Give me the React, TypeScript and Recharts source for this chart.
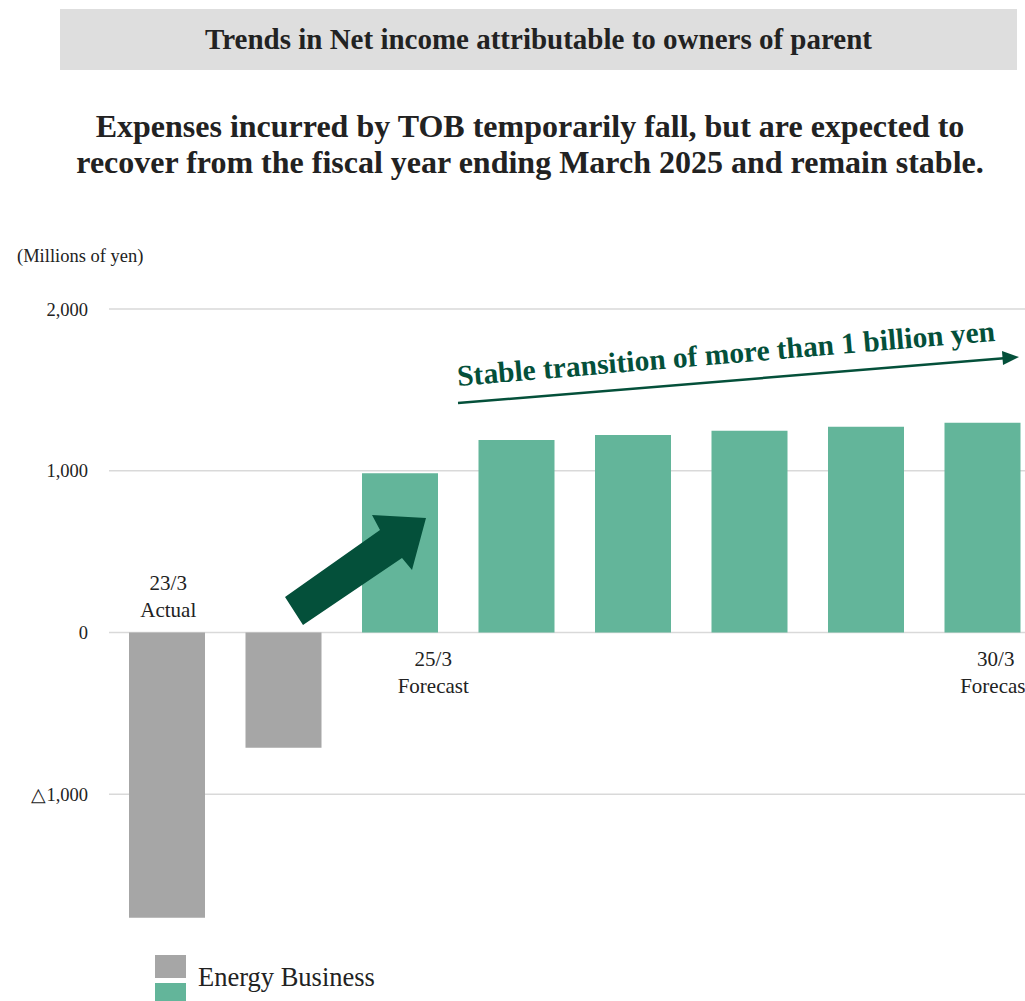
import { BarChart, Bar, XAxis, YAxis, CartesianGrid, Cell } from "recharts";

const categories = ["23/3", "24/3", "25/3", "26/3", "27/3", "28/3", "29/3", "30/3"];
const netIncome = [-1763, -712, 984, 1190, 1221, 1247, 1272, 1297];
const isForecast = [false, false, true, true, true, true, true, true];
const categoryLabels = ["23/3\nActual", "", "25/3\nForecast", "", "", "", "", "30/3\nForecast"];
const yTicks = [-1000, 0, 1000, 2000];
const yTickLabels: Record<number, string> = { [-1000]: "△1,000", 0: "0", 1000: "1,000", 2000: "2,000" };

// horizontal nudge of the category labels (they sit off-centre in the original)
const LABEL_DX: Record<string, number> = { "23/3": 1, "25/3": 33, "30/3": 13 };

const Y_MIN = -2000;
const Y_MAX = 2000;
const CHART_H = 1001;
const X_AXIS_H = 30;
const MARGIN = { top: 309, right: 19, bottom: 15, left: 0 };
const PLOT_H = CHART_H - MARGIN.top - MARGIN.bottom - X_AXIS_H;
const ZERO_Y = MARGIN.top + (PLOT_H * Y_MAX) / (Y_MAX - Y_MIN);

const GRAY = "#a6a6a6";
const GREEN = "#63b59a";
const DARK = "#04503a";
const FONT = "'Liberation Serif', 'Times New Roman', serif";

const data = categories.map((c, i) => ({
  name: c,
  value: netIncome[i],
  forecast: isForecast[i],
  label: categoryLabels[i],
}));

function CategoryTick(props: any) {
  const { x, payload } = props;
  const d = data.find(r => r.name === payload?.value);
  if (!d || !d.label) return null;
  const lines = d.label.split("\n");
  // negative bars get the label above the zero line, positive ones below
  const y0 = d.value < 0 ? ZERO_Y - 50 : ZERO_Y + 26;
  const cx = x + (LABEL_DX[d.name] ?? 0);
  return (
    <g>
      {lines.map((ln: string, i: number) => (
        <text key={i} x={cx} y={y0 + i * 27} textAnchor="middle" dominantBaseline="central"
          fontSize={21} fill="#222" fontFamily={FONT}>
          {ln}
        </text>
      ))}
    </g>
  );
}

export default function App() {
  return (
    <div style={{ position: "fixed", left: 0, top: 0, width: 1025, height: 1001, overflow: "hidden", background: "#fff", fontFamily: FONT }}>
      <div style={{ position: "absolute", left: 60, top: 9, width: 957, height: 61, background: "#dedede",
        display: "flex", alignItems: "center", justifyContent: "center", fontWeight: 700, fontSize: 29, color: "#222" }}>
        Trends in Net income attributable to owners of parent
      </div>
      <div style={{ position: "absolute", left: 0, top: 108, width: 1060, textAlign: "center", fontWeight: 700,
        fontSize: 32, lineHeight: "36px", color: "#222" }}>
        Expenses incurred by TOB temporarily fall, but are expected to<br />
        recover from the fiscal year ending March 2025 and remain stable.
      </div>
      <div style={{ position: "absolute", left: 17, top: 246, fontSize: 18.5, color: "#222" }}>(Millions of yen)</div>

      <div style={{ position: "absolute", left: 0, top: 0 }}>
        <BarChart width={1060} height={CHART_H} data={data} margin={MARGIN} barSize={76}>
          <CartesianGrid vertical={false} stroke="#d9d9d9" strokeWidth={1.6} horizontalValues={yTicks} />
          <XAxis dataKey="name" height={X_AXIS_H} axisLine={false} tickLine={false} tick={<CategoryTick />} interval={0} />
          <YAxis width={109} domain={[Y_MIN, Y_MAX]} ticks={yTicks} axisLine={false} tickLine={false}
            tickMargin={15} tickFormatter={(v: number) => yTickLabels[v] ?? String(v)}
            tick={{ fontSize: 18.5, fill: "#222", fontFamily: FONT }} />
          <Bar dataKey="value" isAnimationActive={false}>
            {data.map((d, i) => (
              <Cell key={i} fill={d.forecast ? GREEN : GRAY} />
            ))}
          </Bar>
        </BarChart>
      </div>

      {/* annotations */}
      <svg width={1025} height={1001} style={{ position: "absolute", left: 0, top: 0, pointerEvents: "none" }}>
        <polygon points="285,597 380,530 372,515 426,518 412,570 402,558 303,625" fill={DARK} />
        <line x1={458} y1={403} x2={1004} y2={358.2} stroke={DARK} strokeWidth={2.5} />
        <polygon points="1019,357 1002,351 1003,365" fill={DARK} />
        <text x={458} y={386} fontFamily={FONT} fontWeight={700} fontSize={29.5} fill={DARK}
          transform="rotate(-4.8 458 386)">
          Stable transition of more than 1 billion yen
        </text>
      </svg>

      {/* legend */}
      <div style={{ position: "absolute", left: 155, top: 955, width: 31, height: 23, background: GRAY }} />
      <div style={{ position: "absolute", left: 198, top: 962, fontSize: 26.5, lineHeight: "30px", color: "#222" }}>Energy Business</div>
      <div style={{ position: "absolute", left: 155, top: 983, width: 31, height: 23, background: GREEN }} />
    </div>
  );
}
